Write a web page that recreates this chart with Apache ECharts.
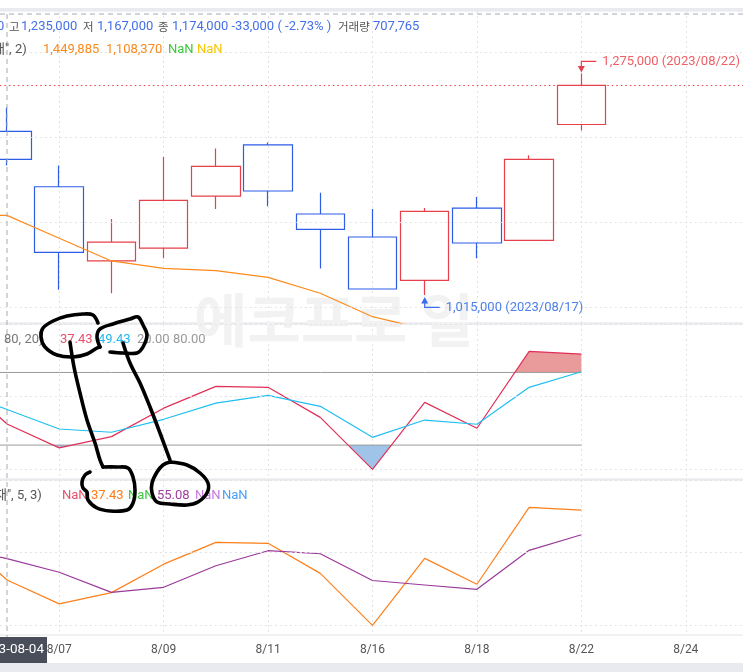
<!DOCTYPE html>
<html><head><meta charset="utf-8">
<script src="https://cdn.jsdelivr.net/npm/echarts@6/dist/echarts.min.js"></script>
<style>html,body{margin:0;padding:0;background:#fff;overflow:hidden}#c{width:743px;height:672px}</style>
</head><body><div id="c"></div>
<script>
// ---- data ----
const categories  = ['8/03','8/04','8/07','8/08','8/09','8/10','8/11','8/14','8/16','8/17','8/18','8/21','8/22','8/23','8/24','8/25','8/28'];
const candleOpen  = [null,1207000,1142000,1055000,1070000,1131000,1191000,1110000,1083000,1032000,1117000,1079000,1215000];
const candleClose = [null,1174000,1065000,1077000,1126000,1166000,1137000,1092000,1022000,1113000,1076000,1174000,1261000];
const candleLow   = [null,1167000,1021000,1017000,1058000,1116000,1119000,1046000,1022000,1015000,1058000,1079000,1208000];
const candleHigh  = [null,1235000,1167000,1104000,1177000,1187000,1194000,1135000,1116000,1117000,1130000,1179000,1275000];
const bandLower   = [1108000,1108370,1081500,1054900,1046300,1043500,1035700,1017000,989500,975000];
const fastK       = [76.4,37.43,17.7,27.0,50.5,68.5,67.7,42.9,0,55.3,33.9,97.4,95.2];
const fastD       = [64.6,49.43,33.3,30.6,41.3,54.7,61.1,52.0,26.4,40.7,37.2,67.7,80.6];
const slowD       = [64.9,55.08,43.8,27.2,31.4,49.2,61.6,59.1,37.0,33.3,29.7,61.9,74.8];
const upperLevel  = [80,80,80,80,80,80,80,80,80,80,80,80,80];
const lowerLevel  = [20,20,20,20,20,20,20,20,20,20,20,20,20];
const priceGridValues = [1000000,1100000,1200000,1300000];
const oscGridValues   = [0,60,120];
const lastClose = 1261000;

// ---- build ----
const candles = categories.map((c,i)=> candleOpen[i]==null ? '-' :
  [candleOpen[i], candleClose[i], candleLow[i], candleHigh[i]]);

const FONT = '13px Roboto, "Noto Sans CJK KR", sans-serif';
const KFONT = '11.5px "Noto Sans CJK KR", sans-serif';
const gridLineStyle = {color:'#e3e3e6', type:[2,3], width:1};
const GL = -45.2, GR = -47.2;

function xAx(gi, showLabel){
  return {type:'category', gridIndex:gi, data:categories, boundaryGap:false,
    axisLine:{show:false}, axisTick:{show:false},
    axisLabel:{show:showLabel, interval:1, margin:9, color:'#555', fontSize:12, fontFamily:'Roboto', hideOverlap:false},
    splitLine:{show:true, interval:1, lineStyle:gridLineStyle}};
}
function yAx(gi, min, max){
  return {type:'value', gridIndex:gi, min, max, show:false, splitLine:{show:false}};
}
function gridMarks(vals){
  return {silent:true, symbol:['none','none'], label:{show:false}, animation:false,
    lineStyle:gridLineStyle, data: vals.map(v=>({yAxis:v}))};
}
function grid(top, height){
  return {left:GL, right:GR, top, height, show:true, borderColor:'#e2e3e8', borderWidth:1,
    containLabel:false, outerBoundsMode:'none'};
}

const chart = echarts.init(document.getElementById('c'));
chart.setOption({
  animation:false,
  backgroundColor:'#fff',
  grid:[grid(11,312), grid(324,155), grid(480,155)],
  xAxis:[xAx(0,false), xAx(1,false), xAx(2,true)],
  yAxis:[yAx(0,982100,1348200), yAx(1,-8,120), yAx(2,-8,120)],
  visualMap:[{type:'piecewise', show:false, seriesIndex:2, dimension:1,
    pieces:[{lt:20, color:'#9fc4e8'},{gte:20, lte:80, color:'rgba(0,0,0,0)'},{gt:80, color:'#e99a9a'}]}],
  series:[
    {type:'candlestick', xAxisIndex:0, yAxisIndex:0, data:candles, barWidth:49,
      itemStyle:{color:'rgba(0,0,0,0)', color0:'rgba(0,0,0,0)', borderColor:'#e8404a', borderColor0:'#2d5ce8', borderWidth:1.2},
      markLine:{silent:true, symbol:['none','none'], label:{show:false}, animation:false,
        data: priceGridValues.map(v=>({yAxis:v, lineStyle:gridLineStyle}))
          .concat([{yAxis:lastClose, lineStyle:{color:'#e8404a', type:[1.5,3], width:1.2}}])}},
    {type:'line', xAxisIndex:0, yAxisIndex:0, data:bandLower, showSymbol:false, symbol:'none',
      lineStyle:{color:'#ff8a1c', width:1.2}, z:3},
    {type:'line', xAxisIndex:1, yAxisIndex:1, data:fastK, symbol:'none',
      lineStyle:{width:0, opacity:0}, areaStyle:{origin:50, opacity:1}, z:1},
    {type:'line', xAxisIndex:1, yAxisIndex:1, data:upperLevel, symbol:'none',
      lineStyle:{color:'#9a9a9a', width:1}, markLine:gridMarks(oscGridValues)},
    {type:'line', xAxisIndex:1, yAxisIndex:1, data:lowerLevel, symbol:'none',
      lineStyle:{color:'#9a9a9a', width:1}},
    {type:'line', xAxisIndex:1, yAxisIndex:1, data:fastK, symbol:'none',
      lineStyle:{color:'#e0305a', width:1.2}},
    {type:'line', xAxisIndex:1, yAxisIndex:1, data:fastD, symbol:'none',
      lineStyle:{color:'#20bff2', width:1.2}},
    {type:'line', xAxisIndex:2, yAxisIndex:2, data:fastK, symbol:'none',
      lineStyle:{color:'#ff7f1a', width:1.2}, markLine:gridMarks(oscGridValues)},
    {type:'line', xAxisIndex:2, yAxisIndex:2, data:slowD, symbol:'none',
      lineStyle:{color:'#9a3a9a', width:1.2}}
  ]
});

// ---- overlays positioned through the chart's own scales ----
function px(i, v){ return chart.convertToPixel({xAxisIndex:0, yAxisIndex:0}, [i, v]); }
let hiI=0, loI=0;
for (let i=0;i<candleHigh.length;i++){
  if (candleHigh[i]!=null && (candleHigh[hiI]==null || candleHigh[i]>candleHigh[hiI])) hiI=i;
  if (candleLow[i]!=null && (candleLow[loI]==null || candleLow[i]<candleLow[loI])) loI=i;
}
function dstr(c){ const p=c.split('/'); return '2023/'+(p[0].length<2?'0'+p[0]:p[0])+'/'+p[1]; }
function fmt(n){ return n.toLocaleString('en-US'); }
const hp = px(hiI, candleHigh[hiI]);
const lp = px(loI, candleLow[loI]);
const cx = px(1, lastClose)[0];

function txt(x, y, s, color, font, align){
  return {type:'text', x:x, y:y, z:20, silent:true,
    style:{text:s, fill:color, font:font||FONT, align:align||'left', verticalAlign:'middle', textAlign:align||'left', textVerticalAlign:'middle'}};
}
function scrib(pts){
  return {type:'polyline', z:100, silent:true, shape:{points:pts, smooth:0.35},
    style:{stroke:'#000', lineWidth:3.6, fill:null, lineCap:'round', lineJoin:'round'}};
}

const V='#4470e8', L='#555';
const dateBoxText = txt(44, 650, '2023-08-04', '#fff', '13.5px Roboto, sans-serif', 'right');
dateBoxText.z = 31;
const g = [
  {type:'rect', z:0, silent:true, shape:{x:0,y:8,width:743,height:3}, style:{fill:'#e8eaef'}},
  {type:'rect', z:0, silent:true, shape:{x:0,y:663,width:743,height:9}, style:{fill:'#e8eaef'}},
  {type:'text', z:0, silent:true, x:334, y:320,
    style:{text:'에코프로 일', fill:'#f2f2f3', font:'bold 58px "Noto Sans CJK KR", sans-serif', align:'center', verticalAlign:'middle', textAlign:'center', textVerticalAlign:'middle'}},
  // crosshair
  {type:'line', z:15, silent:true, shape:{x1:0,y1:14,x2:743,y2:14}, style:{stroke:'#a8a8b2', lineDash:[5,4], lineWidth:1}},
  {type:'line', z:15, silent:true, shape:{x1:cx,y1:14,x2:cx,y2:637}, style:{stroke:'#a8a8b2', lineDash:[5,4], lineWidth:1}},
  {type:'rect', z:30, silent:true, shape:{x:-30,y:637,width:77,height:26}, style:{fill:'#4a4e5a'}},
  dateBoxText,
  // header line 1
  txt(-3,27,'0',V), txt(9,27,'고',L,KFONT), txt(21,27,'1,235,000',V), txt(83,27,'저',L,KFONT), txt(97,27,'1,167,000',V),
  txt(158,27,'종',L,KFONT), txt(172,27,'1,174,000 -33,000 ( -2.73% )',V), txt(338,27,'거래량',L,KFONT), txt(373,27,'707,765',V),
  // header line 2
  txt(-7,50,'재", 2)',L), txt(43,50,'1,449,885','#f98a1e'), txt(106,50,'1,108,370','#f98a1e'),
  txt(168,50,'NaN','#3cc83c'), txt(197,50,'NaN','#f5c800'),
  // oscillator legend
  txt(4,340,'80, 20)','#777'), txt(60,340,'37.43','#e8506a'), txt(98,340,'49.43','#22b8f0'),
  txt(137,340,'20.00','#999'), txt(173,340,'80.00','#999'),
  // stochastic legend
  txt(-5,496,'재", 5, 3)',L), txt(62,496,'NaN','#e8506a'), txt(91,496,'37.43','#ff7a1a'),
  txt(128,496,'NaN','#3cc83c'), txt(157,496,'55.08','#a040a0'), txt(195,496,'NaN','#c878e0'), txt(222,496,'NaN','#4aa0f8'),
  // max marker
  {type:'polyline', z:20, silent:true, shape:{points:[[hp[0]+15,hp[1]-12],[hp[0],hp[1]-12],[hp[0],hp[1]-5]]}, style:{stroke:'#e8404a', lineWidth:1.2, fill:null}},
  {type:'polygon', z:20, silent:true, shape:{points:[[hp[0]-3.5,hp[1]-7.5],[hp[0]+3.5,hp[1]-7.5],[hp[0],hp[1]-1]]}, style:{fill:'#e8404a'}},
  txt(hp[0]+21, hp[1]-12, fmt(candleHigh[hiI])+' ('+dstr(categories[hiI])+')', '#ef5f66'),
  // min marker
  {type:'polyline', z:20, silent:true, shape:{points:[[lp[0],lp[1]+5],[lp[0],lp[1]+12.5],[lp[0]+15,lp[1]+12.5]]}, style:{stroke:'#3a6cf0', lineWidth:1.2, fill:null}},
  {type:'polygon', z:20, silent:true, shape:{points:[[lp[0]-3.5,lp[1]+8.5],[lp[0]+3.5,lp[1]+8.5],[lp[0],lp[1]+2]]}, style:{fill:'#3a6cf0'}},
  txt(lp[0]+21, lp[1]+12.5, fmt(candleLow[loI])+' ('+dstr(categories[loI])+')', '#4d80ea'),
  // hand-drawn marks
  scrib([[98,323],[93,315],[83,314],[67,316],[53,321],[43,328],[41,337],[45,347],[57,355],[73,357],[87,354],[97,348],[100,347]]),
  scrib([[100,347],[97,337],[100,329],[113,324],[130,319],[138,317],[143,325],[147,335],[143,347],[137,353],[123,353],[110,352]]),
  scrib([[70,342],[74,367],[80,393],[87,420],[95,443],[100,460],[103,467]]),
  scrib([[123,343],[130,363],[140,383],[150,407],[160,433],[170,460]]),
  scrib([[103,467],[117,467],[128,468],[133,477],[135,490],[133,503],[127,510],[110,511],[97,508],[88,500],[87,492],[83,488],[82,482],[85,475],[90,472]]),
  scrib([[170,462],[187,465],[200,473],[208,483],[207,493],[198,502],[187,505],[170,504],[157,502],[152,493],[152,483],[157,472],[163,465],[170,462]])
];
chart.setOption({graphic:{elements:g}});
</script>
</body></html>
